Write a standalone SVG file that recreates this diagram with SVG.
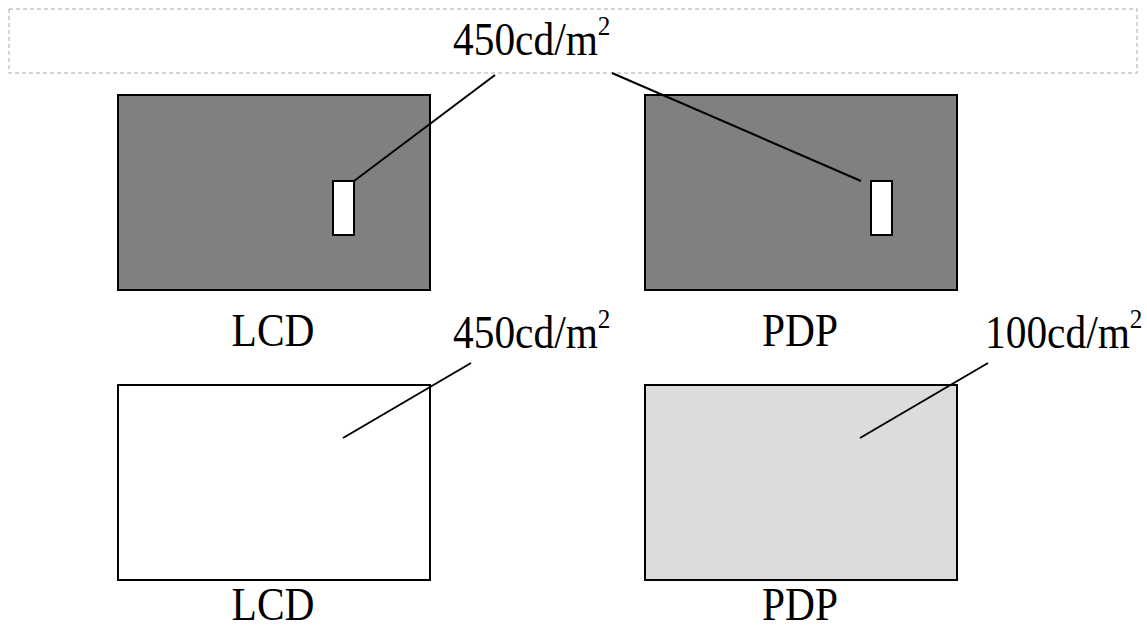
<svg xmlns="http://www.w3.org/2000/svg" width="1147" height="630" viewBox="0 0 1147 630">
<style>
.t{font-family:"Liberation Serif","Times New Roman",serif;font-size:46px;fill:#000}
.s{font-size:28px}
.panel{stroke:#000;stroke-width:2}
.ln{stroke:#000;stroke-width:2;fill:none}
</style>
<rect width="1147" height="630" fill="#fff"/>
<g id="callout-box">
<rect x="9" y="9" width="1128" height="64" fill="none" stroke="#aaa" stroke-width="1" stroke-dasharray="4,3"/>
<text class="t" transform="translate(453 55) scale(0.9 1)">450cd/m<tspan class="s" dy="-20">2</tspan></text>
</g>
<g id="lcd-top">
<rect class="panel" x="118" y="95" width="312" height="195" fill="#808080"/>
<rect class="panel" x="333" y="181" width="21" height="54" fill="#fff"/>
<text class="t" transform="translate(273 346) scale(0.9 1)" text-anchor="middle">LCD</text>
</g>
<g id="pdp-top">
<rect class="panel" x="645" y="95" width="312" height="195" fill="#808080"/>
<rect class="panel" x="871" y="181" width="21" height="54" fill="#fff"/>
<text class="t" transform="translate(800 346) scale(0.9 1)" text-anchor="middle">PDP</text>
</g>
<g id="lcd-bottom">
<rect class="panel" x="118" y="385" width="312" height="195" fill="#fff"/>
<text class="t" transform="translate(273 620) scale(0.9 1)" text-anchor="middle">LCD</text>
</g>
<g id="pdp-bottom">
<rect class="panel" x="645" y="385" width="312" height="195" fill="#dcdcdc"/>
<text class="t" transform="translate(800 620) scale(0.9 1)" text-anchor="middle">PDP</text>
</g>
<g id="label-lcd-bottom">
<text class="t" transform="translate(453 348) scale(0.9 1)">450cd/m<tspan class="s" dy="-20">2</tspan></text>
</g>
<g id="label-pdp-bottom">
<text class="t" transform="translate(985 348) scale(0.9 1)">100cd/m<tspan class="s" dy="-20">2</tspan></text>
</g>
<g id="connectors">
<line class="ln" x1="495" y1="75" x2="354" y2="181"/>
<line class="ln" x1="612" y1="73" x2="861" y2="181"/>
<line class="ln" x1="471" y1="363" x2="343" y2="438"/>
<line class="ln" x1="988" y1="363" x2="860" y2="438"/>
</g>
</svg>
